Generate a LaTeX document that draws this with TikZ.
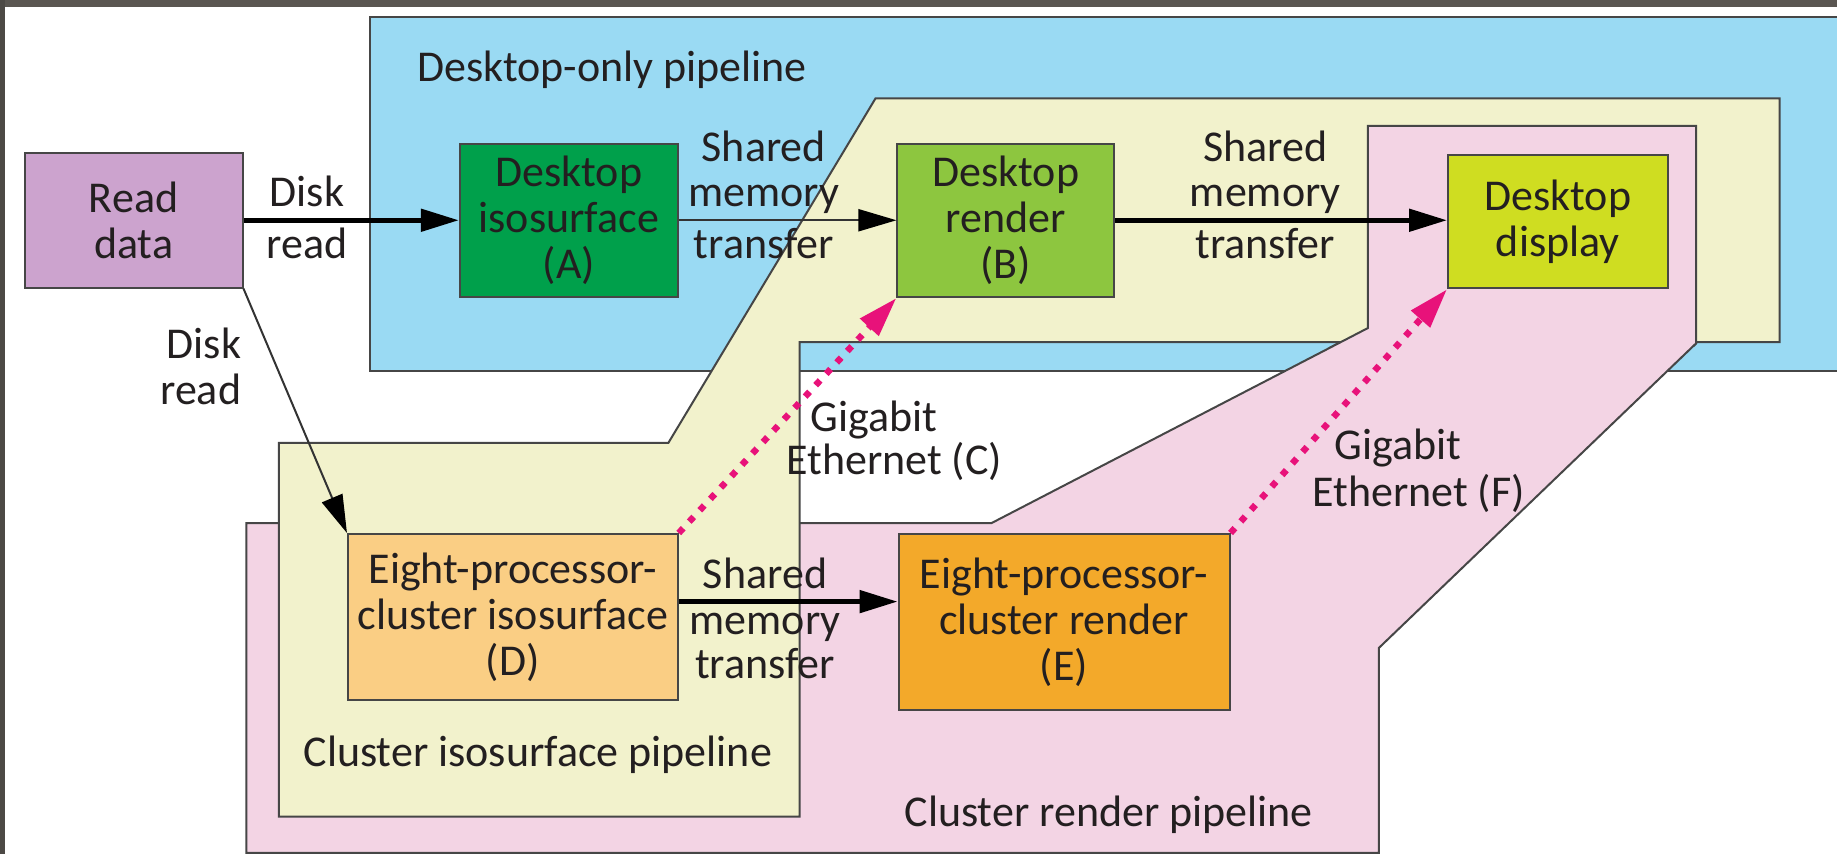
\documentclass[tikz,border=0pt]{standalone}
\usepackage{fontspec}
\setmainfont{Carlito}
\usetikzlibrary{arrows.meta,calc}

\definecolor{framegray}{HTML}{5A5651}
\definecolor{edge}{HTML}{464646}
\definecolor{ink}{HTML}{231F20}
\definecolor{bluezone}{HTML}{9ADAF3}
\definecolor{yellowzone}{HTML}{F2F2CC}
\definecolor{pinkzone}{HTML}{F3D4E4}
\definecolor{readfill}{HTML}{CCA3CE}
\definecolor{isofill}{HTML}{00A04B}
\definecolor{renderfill}{HTML}{8DC63F}
\definecolor{displayfill}{HTML}{CFDD21}
\definecolor{ciso}{HTML}{FACE84}
\definecolor{cren}{HTML}{F3A92A}
\definecolor{netpink}{HTML}{E8127A}

\begin{document}
\begin{tikzpicture}[x=1.1716pt, y=-1.1716pt,
  font=\fontsize{44}{46}\selectfont,
  region/.style={draw=edge, line width=2pt},
  box/.style={draw=edge, line width=2pt, align=center, inner sep=0pt, text=ink},
  lbl/.style={anchor=base, inner sep=0pt, text=ink},
  heavyarrow/.style={line width=5pt, draw=black, -{Triangle[length=38pt,width=22pt]}},
  lightarrow/.style={line width=2pt, draw=black!80, -{Triangle[length=38pt,width=22pt,color=black]}},
  netlink/.style={draw=netpink, line width=6.5pt, dash pattern=on 6.5pt off 9pt,
                  -{Triangle[length=40pt,width=24pt]}}]

\useasboundingbox (0,0) rectangle (1568,729);
\clip (0,0) rectangle (1568,729);
\fill[white] (0,0) rectangle (1568,729);

% desktop-only pipeline zone
\filldraw[region, fill=bluezone] (315.5,14.5) rectangle (1580,316.5);

% cluster render pipeline zone
\filldraw[region, fill=pinkzone]
  (210.4,728) -- (210.4,446.5) -- (846.3,446.5) -- (1167.6,280) -- (1167.6,107.5)
  -- (1447.8,107.5) -- (1447.8,293) -- (1177,553) -- (1177,728) -- cycle;

% cluster isosurface pipeline zone
\filldraw[region, fill=yellowzone]
  (747.3,84) -- (1519,84) -- (1519,292) -- (682.5,292) -- (682.5,697)
  -- (238,697) -- (238,378) -- (570.5,378) -- cycle;

% the render zone lies above the isosurface zone on the right
\begin{scope}
  \clip (900,0) rectangle (1568,295.5);
  \filldraw[region, fill=pinkzone]
    (210.4,728) -- (210.4,446.5) -- (846.3,446.5) -- (1167.6,280) -- (1167.6,107.5)
    -- (1447.8,107.5) -- (1447.8,293) -- (1177,553) -- (1177,728) -- cycle;
\end{scope}

% window frame
\fill[framegray] (0,0) rectangle (1568,5.7);
\fill[framegray!85!black] (0,0) rectangle (4.5,729);

% zone titles
\node[lbl, anchor=base west] (tdesk) at (356,69.7) {Desktop-only pipeline};
\node[lbl, anchor=base west] (tciso) at (259,654) {Cluster isosurface pipeline};
\node[lbl, anchor=base west] (tcren) at (772,705.6) {Cluster render pipeline};

% stages
\node[box, fill=readfill, minimum width=217.9pt, minimum height=134.7pt] (read) at (114,188) {Read\\data};
\node[box, fill=isofill, minimum width=217.9pt, minimum height=153.5pt] (A) at (485.5,188) {Desktop\\isosurface\\(A)};
\node[box, fill=renderfill, minimum width=216.7pt, minimum height=153.5pt] (B) at (858.5,188) {Desktop\\render\\(B)};
\node[box, fill=displayfill, minimum width=219.7pt, minimum height=133.6pt] (disp) at (1329.75,189) {Desktop\\display};
\node[box, fill=ciso, minimum width=329.8pt, minimum height=166pt] (D) at (437.75,526.65) {Eight-processor-\\cluster isosurface\\(D)};
\node[box, fill=cren, minimum width=331pt, minimum height=176pt] (E) at (908.25,530.9) {Eight-processor-\\cluster render\\(E)};

% data flow
\draw[heavyarrow] (read.east) -- (read.east -| A.west);
\draw[lightarrow] (A.east) -- (A.east -| B.west);
\draw[heavyarrow] (B.east) -- (B.east -| disp.west);
\draw[lightarrow] (read.south east) -- (D.north west);
\draw[heavyarrow] ([yshift=15.4pt]D.east) -- ([yshift=15.4pt]D.east -| E.west);
\draw[netlink] (D.north east) -- (B.south west);
\draw[netlink] (E.north east) -- (disp.south west);

% connector labels
\node[lbl] (dr1) at (262,176) {Disk};
\node[lbl] (dr2) at (262,220.5) {read};
\node[lbl, anchor=base east] (dd1) at (206,305.8) {Disk};
\node[lbl, anchor=base east] (dd2) at (206,345.6) {read};
\node[lbl] (ab1) at (652,138) {Shared};
\node[lbl] (ab2) at (652,176.4) {memory};
\node[lbl] (ab3) at (652,220.5) {transfer};
\node[lbl] (bd1) at (1080,138) {Shared};
\node[lbl] (bd2) at (1080,176.4) {memory};
\node[lbl] (bd3) at (1080,220.5) {transfer};
\node[lbl] (de1) at (653,502) {Shared};
\node[lbl] (de2) at (653,542) {memory};
\node[lbl] (de3) at (653,579) {transfer};
\node[lbl, anchor=base west] (gc1) at (692,368.5) {Gigabit};
\node[lbl, anchor=base west] (gc2) at (671,405.4) {Ethernet (C)};
\node[lbl, anchor=base west] (gf1) at (1139,392.6) {Gigabit};
\node[lbl, anchor=base west] (gf2) at (1120,432) {Ethernet (F)};
\end{tikzpicture}
\end{document}
